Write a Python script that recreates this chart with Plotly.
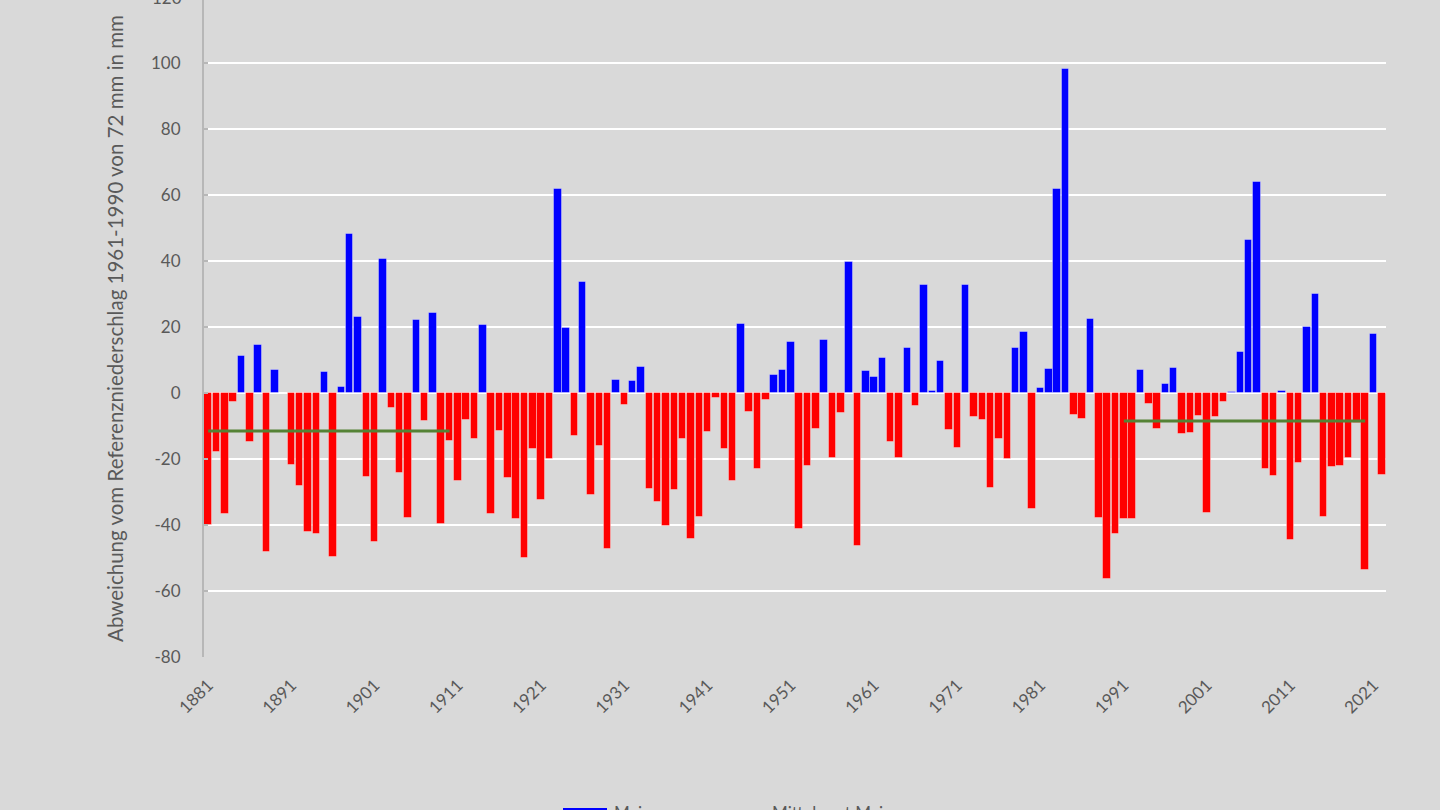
import plotly.graph_objects as go

years = list(range(1881, 2023))
values = [
    -40.0, -18.0, -36.6, -2.7, 11.3, -14.8, 14.6, -48.2, 7.0, 0.0,
    -21.9, -28.3, -42.2, -42.8, 6.5, -49.8, 1.8, 48.2, 23.1, -25.5,
    -45.2, 40.6, -4.5, -24.2, -37.9, 22.1, -8.4, 24.2, -39.8, -14.6,
    -26.7, -8.1, -13.9, 20.5, -36.6, -11.6, -25.8, -38.2, -49.9, -16.9,
    -32.3, -20.1, 61.9, 19.8, -13.0, 33.7, -31.0, -16.1, -47.4, 4.0,
    -3.6, 3.6, 8.0, -29.1, -33.1, -40.2, -29.4, -13.9, -44.1, -37.5,
    -11.9, -1.5, -17.1, -26.7, 20.8, -5.7, -23.1, -2.0, 5.4, 7.0,
    15.5, -41.2, -22.1, -10.8, 16.2, -19.6, -6.1, 39.8, -46.4, 6.7,
    5.0, 10.7, -14.8, -19.6, 13.5, -4.0, 32.8, 0.7, 9.6, -11.3,
    -16.6, 32.8, -7.4, -8.1, -28.7, -14.0, -20.0, 13.5, 18.6, -35.2,
    1.5, 7.4, 61.9, 98.1, -6.7, -7.8, 22.5, -37.9, -56.3, -42.8,
    -38.2, -38.2, 7.0, -3.4, -10.9, 2.7, 7.7, -12.3, -12.0, -7.0,
    -36.3, -7.3, -2.7, 0.4, 12.3, 46.4, 64.0, -22.9, -25.1, 0.7,
    -44.5, -21.2, 20.1, 30.1, -37.5, -22.4, -22.1, -19.6, -9.2, -53.6,
    17.8, -24.7,
]

mean_periods = [(1881, 1910), (1991, 2020)]
mean_values = [-11.5, -8.5]

tick_years = list(range(1881, 2022, 10))
tick_labels = [str(y) for y in tick_years]
y_ticks = [-80, -60, -40, -20, 0, 20, 40, 60, 80, 100]
y_tick_labels = ["-80", "-60", "-40", "-20", "0", "20", "40", "60", "80", "100"]
y_top_label = "120"

series_name = "Mai"
mean_name = "Mittelwert Mai"
y_title = "Abweichung vom Referenzniederschlag 1961-1990 von 72 mm in mm"

BLUE = "#0000ff"
RED = "#ff0000"
GREEN = "#548235"
TXT = "#595959"
BG = "#d9d9d9"
FONT = "Lato"

Y_MIN, Y_MAX = -80, 119.1

bar_colors = [BLUE if v >= 0 else RED for v in values]

mean_line = []
for y in years:
    val = None
    for (a, b), m in zip(mean_periods, mean_values):
        if a <= y <= b:
            val = m
    mean_line.append(val)

fig = go.Figure()
fig.add_trace(go.Bar(
    x=years, y=values, name=series_name, width=0.9,
    marker=dict(color=bar_colors, line=dict(color="rgba(255,255,255,0.35)", width=1)),
    showlegend=False,
))
fig.add_trace(go.Scatter(
    x=years, y=mean_line, name=mean_name, mode="lines",
    line=dict(color=GREEN, width=3), connectgaps=False, showlegend=False,
))

fig.update_layout(
    width=1440, height=810,
    paper_bgcolor=BG, plot_bgcolor=BG,
    margin=dict(l=204, r=54, t=0, b=153),
    font=dict(family=FONT, size=17, color=TXT),
    bargap=0,
    xaxis=dict(
        range=[1880.5, 2022.5], tickmode="array", tickvals=tick_years, ticktext=tick_labels,
        tickangle=-45, showgrid=False, zeroline=False, showline=False,
        ticks="", ticklabelstandoff=14, tickfont=dict(family=FONT, size=17, color=TXT),
    ),
    yaxis=dict(
        range=[Y_MIN, Y_MAX], tickmode="array", tickvals=y_ticks, ticktext=y_tick_labels,
        showgrid=True, gridcolor="#ffffff", gridwidth=1.5, zeroline=False,
        showline=True, linecolor="#b7b7b7", linewidth=2,
        ticks="inside", ticklen=4, tickcolor="#b7b7b7", tickwidth=2,
        ticklabelstandoff=18, tickfont=dict(family=FONT, size=17, color=TXT),
        title=dict(text=y_title, font=dict(family=FONT, size=20.5, color=TXT), standoff=22),
    ),
)

# partially visible top tick label (cut off by the page edge in the reference)
fig.add_annotation(x=0, xref="paper", y=(120 - Y_MIN) / (Y_MAX - Y_MIN), yref="paper",
                   text=y_top_label, showarrow=False,
                   xanchor="right", yanchor="middle", xshift=-20,
                   font=dict(family=FONT, size=17, color=TXT))

# legend at bottom edge (mostly outside the visible window, as in the reference)
fig.add_shape(type="rect", xref="paper", yref="paper",
              x0=(563 - 204) / 1182, x1=(607 - 204) / 1182,
              y0=(657 - 822) / 657, y1=(657 - 808) / 657,
              fillcolor=BLUE, line=dict(width=0))
LEG_Y = (657 - 812) / 657
fig.add_annotation(x=(612 - 204) / 1182, xref="paper", y=LEG_Y, yref="paper",
                   text=series_name, showarrow=False, xanchor="left", yanchor="middle",
                   font=dict(family=FONT, size=17, color=TXT))
fig.add_shape(type="line", xref="paper", yref="paper",
              x0=(720 - 204) / 1182, x1=(764 - 204) / 1182,
              y0=(657 - 816) / 657, y1=(657 - 816) / 657,
              line=dict(color=GREEN, width=3))
fig.add_annotation(x=(770 - 204) / 1182, xref="paper", y=LEG_Y, yref="paper",
                   text=mean_name, showarrow=False, xanchor="left", yanchor="middle",
                   font=dict(family=FONT, size=17, color=TXT))

fig.write_html("out.html", config={"displayModeBar": False},
               post_script="document.body.style.margin='0';document.body.style.overflow='hidden';")
